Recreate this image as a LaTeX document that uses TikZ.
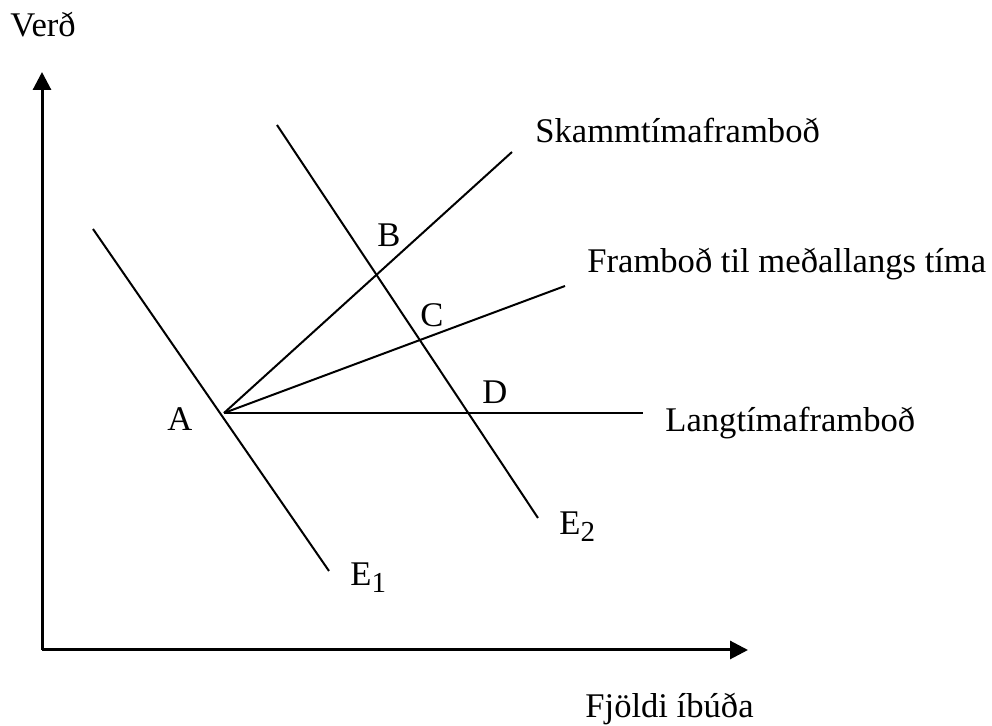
\documentclass[tikz,border=0pt]{standalone}
\usepackage{fontspec}
\setmainfont{Liberation Serif}
\usetikzlibrary{arrows.meta}
\newcommand{\mysub}[1]{\raisebox{-3.5pt}{\fontsize{14.5}{16}\selectfont #1}}
\begin{document}
\begin{tikzpicture}[x=0.5pt,y=-0.5pt,
  lbl/.style={anchor=base west,inner sep=0pt,font=\fontsize{17.3}{20}\selectfont},
  axisline/.style={line width=1.5pt,-{Triangle[length=9pt,width=9pt]}},
  curve/.style={line width=1pt}]
\useasboundingbox (0,0) rectangle (992,726);
% axes
\coordinate (O) at (42,650);
\coordinate (Ytip) at (42,72);
\coordinate (Xtip) at (748,650);
\draw[axisline] (O) -- (Ytip);
\draw[axisline] (O) -- (Xtip);
\node[lbl] (verd) at (10,37) {Verð};
\node[lbl,anchor=base east] (fjoldi) at (754,718) {Fjöldi íbúða};
% demand curves
\coordinate (E1s) at (93,229);
\coordinate (E1e) at (329,571);
\coordinate (E2s) at (277,125);
\coordinate (E2e) at (538,518);
\draw[curve] (E1s) -- (E1e);
\draw[curve] (E2s) -- (E2e);
% supply curves from A
\coordinate (A) at (224,413);
\coordinate (Send) at (512,152);
\coordinate (Mend) at (565,286);
\coordinate (Lend) at (643,413);
\draw[curve] (A) -- (Send);
\draw[curve] (A) -- (Mend);
\draw[curve] (A) -- (Lend);
% labels
\node[lbl] (skamm) at (535,143) {Skammtímaframboð};
\node[lbl] (medal) at (587,273) {Framboð til meðallangs tíma};
\node[lbl] (lang) at (665,432) {Langtímaframboð};
\node[lbl] (Alab) at (167,431) {A};
\node[lbl] (Blab) at (377,247) {B};
\node[lbl] (Clab) at (420,327) {C};
\node[lbl] (Dlab) at (482,404) {D};
\node[lbl] (E1lab) at (350,586) {E\mysub{1}};
\node[lbl] (E2lab) at (559,535) {E\mysub{2}};
\end{tikzpicture}
\end{document}
